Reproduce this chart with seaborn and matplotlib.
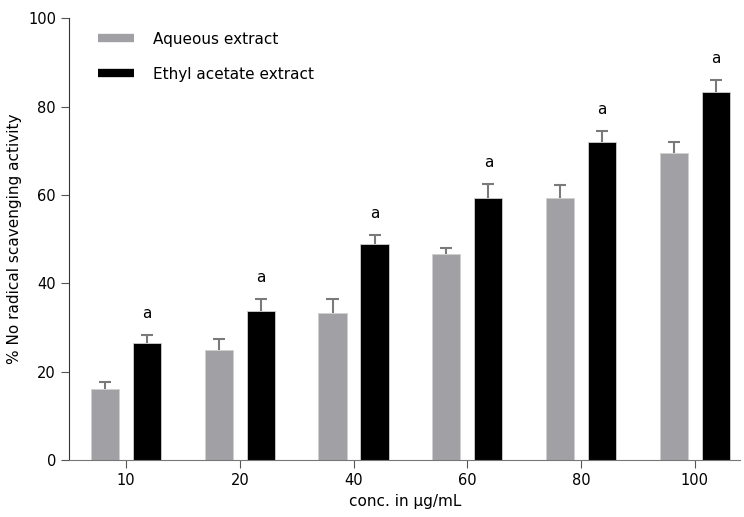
import numpy as np
import pandas as pd
import matplotlib
matplotlib.use("Agg")
import matplotlib.pyplot as plt
from matplotlib.lines import Line2D
import seaborn as sns

# datos
concs = ["10", "20", "40", "60", "80", "100"]
aqueous = [16.1, 25.0, 33.3, 46.6, 59.4, 69.5]
aqueous_err = [1.6, 2.5, 3.1, 1.4, 2.8, 2.4]
ethyl = [26.5, 33.7, 48.8, 59.3, 72.0, 83.3]
ethyl_err = [1.9, 2.7, 2.2, 3.1, 2.5, 2.7]
series = ["Aqueous extract", "Ethyl acetate extract"]
letters = ["a", "a", "a", "a", "a", "a"]

df = pd.DataFrame({
    "conc": concs * 2,
    "value": aqueous + ethyl,
    "serie": [series[0]] * len(concs) + [series[1]] * len(concs),
})

sns.set_style("ticks")
plt.rcParams["font.family"] = ["DejaVu Sans"]
plt.rcParams["text.color"] = "black"
plt.rcParams["axes.labelcolor"] = "black"
plt.rcParams["xtick.labelcolor"] = "black"
plt.rcParams["ytick.labelcolor"] = "black"

fig = plt.figure(figsize=(7.44, 5.17), dpi=100)
ax = fig.add_axes([0.093, 0.110, 0.902, 0.855])

colors = ["#a1a1a5", "#000000"]
sns.barplot(data=df, x="conc", y="value", hue="serie", palette=colors,
            width=0.74, gap=0.33, errorbar=None, ax=ax, legend=False,
            edgecolor="#d0d0d0", linewidth=0.6, zorder=2)

# barras de error (solo hacia arriba)
errs = [aqueous_err, ethyl_err]
cap = 0.053
for cont, err in zip(ax.containers, errs):
    xs = np.array([b.get_x() + b.get_width() / 2 for b in cont])
    hs = np.array([b.get_height() for b in cont])
    tops = hs + np.array(err)
    ax.vlines(xs, hs, tops, colors="#7a7a7a", lw=1.5, zorder=1)
    ax.hlines(tops, xs - cap, xs + cap, colors="#7a7a7a", lw=1.5, zorder=1)

# letras de significancia sobre las barras de acetato
cont = ax.containers[1]
for b, e, t in zip(cont, ethyl_err, letters):
    ax.annotate(t, (b.get_x() + b.get_width() / 2, b.get_height() + e),
                xytext=(0, 10), textcoords="offset points",
                ha="center", va="bottom", fontsize=11)

ax.set_ylim(0, 100)
ax.set_xlim(-0.5, 5.4)
ax.set_yticks([0, 20, 40, 60, 80, 100])
ax.set_xlabel("conc. in µg/mL", fontsize=11)
ax.set_ylabel("% No radical scavenging activity", fontsize=11)
ax.tick_params(labelsize=10.5, length=6, color="#555555")
sns.despine(ax=ax)
ax.spines["left"].set_color("#333333")
ax.spines["bottom"].set_color("#777777")

handles = [Line2D([0], [0], color=c, lw=6, solid_capstyle="butt") for c in colors]
ax.legend(handles, series, loc="upper left", bbox_to_anchor=(0.022, 1.0),
          frameon=False, fontsize=11, handlelength=2.4, handletextpad=1.2,
          labelspacing=1.3)

fig.savefig("out.png", dpi=100)
